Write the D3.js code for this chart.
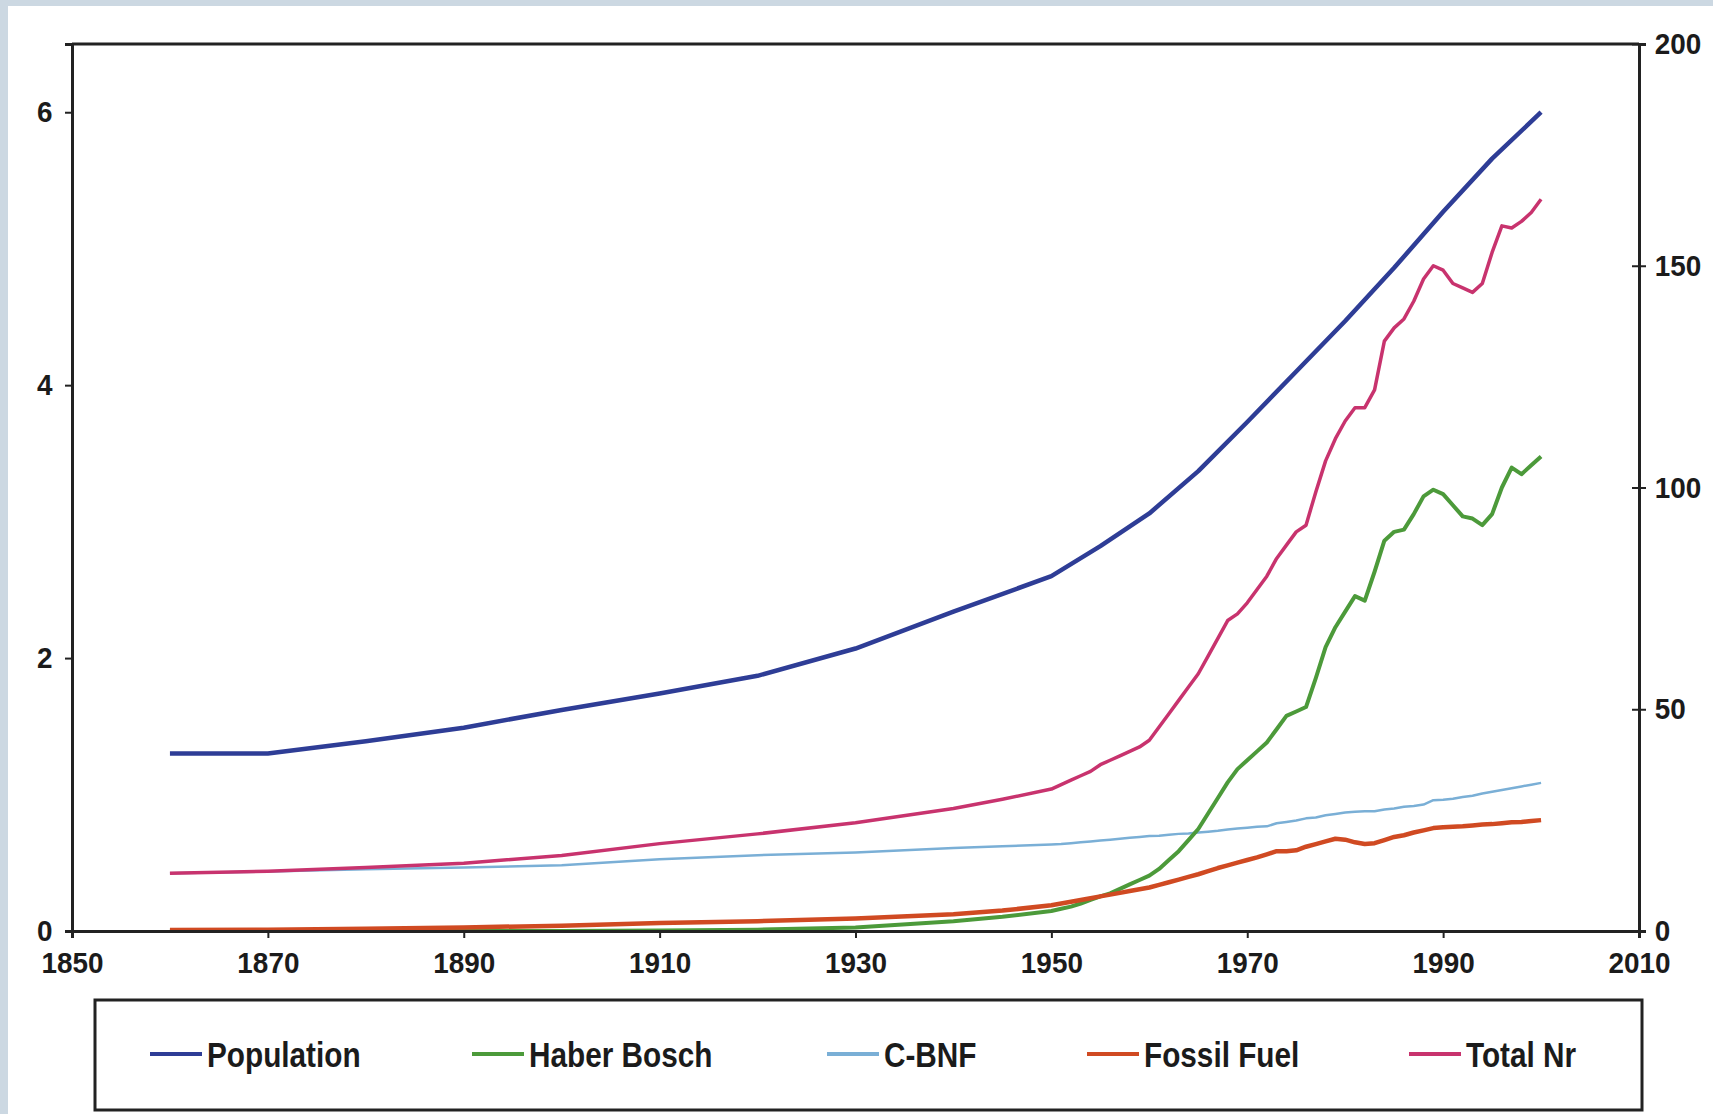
<!DOCTYPE html>
<html>
<head>
<meta charset="utf-8">
<script src="https://cdn.jsdelivr.net/npm/d3@7"></script>
<style>
	body { margin: 0; background: #ccd8e2; }
	svg { display: block; }
	text { font-family: 'Liberation Sans', Arial, sans-serif; font-weight: bold; fill: #1b1b1b; }
</style>
</head>
<body>
<script>
// population, billions (left axis)
const popYears = [1860, 1870, 1880, 1890, 1900, 1910, 1920, 1930, 1940, 1950, 1955, 1960, 1965, 1970, 1975, 1980, 1985, 1990, 1995, 2000];
const population = [1.3, 1.3, 1.39, 1.49, 1.62, 1.74, 1.87, 2.07, 2.34, 2.6, 2.82, 3.06, 3.37, 3.73, 4.1, 4.47, 4.86, 5.27, 5.66, 6.0];

// reactive N, Tg N/yr (right axis)
const nYears = [1860, 1870, 1880, 1890, 1900, 1910, 1920, 1930, 1940, 1945].concat(d3.range(1950, 2001));
const haberBosch = [0, 0, 0, 0, 0, 0.1, 0.3, 0.8, 2.2, 3.2,
	4.5, 5, 5.5, 6.2, 7, 7.8, 8.5, 9.5, 10.5, 11.5,
	12.5, 14, 16, 18, 20.5, 23, 26.5, 30, 33.5, 36.5,
	38.5, 40.5, 42.5, 45.5, 48.5, 49.5, 50.5, 57, 64, 68.5,
	72, 75.5, 74.5, 81, 88, 90, 90.5, 94, 98, 99.5,
	98.5, 96, 93.5, 93, 91.5, 94, 100, 104.5, 103, 105,
	107];
const cbnf = [13, 13.4, 13.9, 14.3, 14.8, 16.2, 17.1, 17.7, 18.7, 19.1,
	19.5, 19.6, 19.8, 20, 20.2, 20.4, 20.6, 20.8, 21, 21.2,
	21.4, 21.5, 21.7, 21.9, 22, 22.2, 22.4, 22.6, 22.9, 23.1,
	23.3, 23.5, 23.6, 24.3, 24.6, 24.9, 25.4, 25.6, 26.1, 26.4,
	26.7, 26.9, 27, 27, 27.4, 27.6, 28, 28.2, 28.5, 29.5,
	29.6, 29.8, 30.2, 30.5, 31, 31.4, 31.8, 32.2, 32.6, 33,
	33.4];
const fossilFuel = [0.2, 0.3, 0.5, 0.8, 1.2, 1.8, 2.2, 2.8, 3.8, 4.6,
	5.8, 6.2, 6.6, 7, 7.4, 7.8, 8.2, 8.6, 9, 9.4,
	9.8, 10.4, 11, 11.6, 12.2, 12.8, 13.5, 14.2, 14.8, 15.4,
	16, 16.6, 17.3, 18, 18, 18.2, 19, 19.6, 20.2, 20.8,
	20.6, 20, 19.6, 19.8, 20.5, 21.2, 21.6, 22.2, 22.7, 23.2,
	23.4, 23.5, 23.6, 23.8, 24, 24.1, 24.3, 24.5, 24.6, 24.8,
	25];
const totalNr = [13, 13.5, 14.3, 15.3, 17, 19.7, 21.9, 24.4, 27.6, 29.7,
	32, 33, 34, 35, 36, 37.5, 38.5, 39.5, 40.5, 41.5,
	43, 46, 49, 52, 55, 58, 62, 66, 70, 71.5,
	74, 77, 80, 84, 87, 90, 91.5, 99, 106, 111,
	115, 118, 118, 122, 133, 136, 138, 142, 147, 150,
	149, 146, 145, 144, 146, 153, 159, 158.5, 160, 162,
	165];

const xTicks = [1850, 1870, 1890, 1910, 1930, 1950, 1970, 1990, 2010];
const leftTicks = [0, 2, 4, 6];
const rightTicks = [0, 50, 100, 150, 200];

const legendNames = ['Population', 'Haber Bosch', 'C-BNF', 'Fossil Fuel', 'Total Nr'];
const legendColors = ['#2e3d96', '#4c9a3a', '#7aafd6', '#d04a22', '#c8336e'];

const svgSize = {width: 1713, height: 1114};
const margin = {top: 44, right: 74, bottom: 183, left: 72};
const chartSize = {width: svgSize.width - margin.left - margin.right, height: svgSize.height - margin.top - margin.bottom};
const squeeze = 0.85; // the legend in the figure is set in a condensed face

var svg = d3.select('body').append('svg')
	.attr('width', svgSize.width)
	.attr('height', svgSize.height);

// white panel over the grey page
svg.append('rect')
	.attr('x', 8).attr('y', 6)
	.attr('width', svgSize.width - 8).attr('height', svgSize.height - 6)
	.attr('fill', '#ffffff');

var x = d3.scaleLinear().domain([1850, 2010]).range([0, chartSize.width]);
var yLeft = d3.scaleLinear().domain([0, 6.5]).range([chartSize.height, 0]);
var yRight = d3.scaleLinear().domain([0, 200]).range([chartSize.height, 0]);

var g = svg.append('g').attr('transform', `translate(${margin.left}, ${margin.top})`);

// top border
g.append('line')
	.attr('x1', 0).attr('x2', chartSize.width)
	.attr('y1', 0).attr('y2', 0)
	.attr('stroke', '#222').attr('stroke-width', 3);

var series = [
	{name: 'C-BNF', years: nYears, values: cbnf, scale: yRight, width: 2.5},
	{name: 'Haber Bosch', years: nYears, values: haberBosch, scale: yRight, width: 4},
	{name: 'Fossil Fuel', years: nYears, values: fossilFuel, scale: yRight, width: 4.5},
	{name: 'Total Nr', years: nYears, values: totalNr, scale: yRight, width: 3.5},
	{name: 'Population', years: popYears, values: population, scale: yLeft, width: 4.5}
];

series.forEach((s) => {
	let line = d3.line()
		.x((d, i) => x(s.years[i]))
		.y((d) => s.scale(d));
	g.append('path')
		.datum(s.values)
		.attr('fill', 'none')
		.attr('stroke', legendColors[legendNames.indexOf(s.name)])
		.attr('stroke-width', s.width)
		.attr('stroke-linejoin', 'round')
		.attr('d', line);
});

// tick labels: a little smaller than the legend so the corner labels don't collide
const tickSqueeze = 0.93;
function styleAxis(sel) {
	sel.select('.domain').attr('stroke', '#222').attr('stroke-width', 3);
	sel.selectAll('.tick line').attr('stroke', '#222').attr('stroke-width', 2);
	sel.selectAll('.tick text')
		.attr('font-size', 30)
		.attr('fill', '#1b1b1b')
		.attr('transform', `scale(${tickSqueeze}, 1)`);
}

g.append('g')
	.attr('transform', `translate(0, ${chartSize.height})`)
	.call(d3.axisBottom(x).tickValues(xTicks).tickFormat(d3.format('d')).tickSizeOuter(0).tickSize(7).tickPadding(14))
	.call(styleAxis);

g.append('g')
	.call(d3.axisLeft(yLeft).tickValues(leftTicks).tickFormat(d3.format('d')).tickSizeOuter(0).tickSize(7).tickPadding(14))
	.call(styleAxis);

g.append('g')
	.attr('transform', `translate(${chartSize.width}, 0)`)
	.call(d3.axisRight(yRight).tickValues(rightTicks).tickSizeOuter(0).tickSize(7).tickPadding(10))
	.call(styleAxis)
	.call((a) => a.selectAll('.tick line').attr('x1', -7));

// legend
const legendBox = {x: 95, y: 1000, width: 1547, height: 110};
const legendX = [150, 472, 827, 1087, 1409];

svg.append('rect')
	.attr('x', legendBox.x).attr('y', legendBox.y)
	.attr('width', legendBox.width).attr('height', legendBox.height)
	.attr('fill', '#fff').attr('stroke', '#222').attr('stroke-width', 3);

var items = svg.selectAll('.legend-item')
	.data(legendNames)
	.enter()
	.append('g')
	.attr('class', 'legend-item')
	.attr('transform', (d, i) => `translate(${legendX[i]}, ${legendBox.y + 54})`);

items.append('line')
	.attr('x1', 0).attr('x2', 52)
	.attr('stroke', (d, i) => legendColors[i])
	.attr('stroke-width', 4);

items.append('text')
	.attr('x', 57 / squeeze)
	.attr('dy', '0.36em')
	.attr('font-size', 35)
	.attr('transform', `scale(${squeeze}, 1)`)
	.text((d) => d);
</script>
</body>
</html>
